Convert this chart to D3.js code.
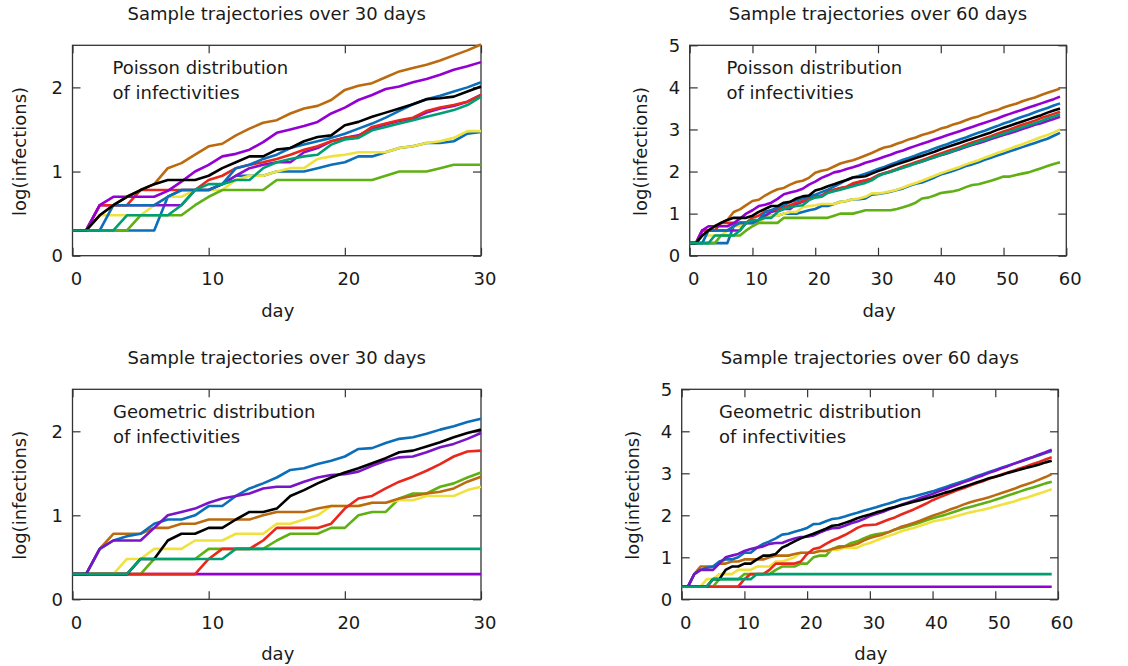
<!DOCTYPE html>
<html>
<head>
<meta charset="utf-8">
<script src="https://cdn.jsdelivr.net/npm/d3@7"></script>
<style>
body { margin: 0; background: #fff; }
#visual { width: 1128px; height: 666px; }
</style>
</head>
<body>
<div id="visual"></div>
<script>
// tick labels
var xTicks30 = [0, 10, 20, 30];
var xTicks60 = [0, 10, 20, 30, 40, 50, 60];
var yTicks25 = [0, 1, 2];
var yTicks5 = [0, 1, 2, 3, 4, 5];

// log(infections) per day, index = day (0..59); 30-day panels show days 0..30
var poissonBrown = [0.30,0.30,0.48,0.60,0.70,0.78,0.85,1.04,1.10,1.20,1.30,1.33,1.43,1.51,1.58,1.61,1.69,1.75,1.78,1.85,1.97,2.02,2.05,2.12,2.19,2.23,2.27,2.32,2.38,2.44,2.51,
    2.57,2.60,2.66,2.71,2.77,2.81,2.87,2.91,2.96,3.02,3.06,3.12,3.16,3.22,3.27,3.31,3.37,3.42,3.46,3.52,3.57,3.61,3.67,3.72,3.76,3.82,3.87,3.92,3.97];
var poissonPurple = [0.30,0.30,0.60,0.70,0.70,0.70,0.70,0.77,0.88,1.00,1.08,1.18,1.21,1.26,1.35,1.46,1.50,1.54,1.59,1.69,1.76,1.85,1.91,1.98,2.01,2.06,2.10,2.15,2.21,2.25,2.30,
    2.35,2.40,2.46,2.50,2.56,2.61,2.66,2.71,2.76,2.81,2.86,2.91,2.96,3.01,3.06,3.11,3.16,3.21,3.26,3.32,3.37,3.42,3.47,3.52,3.57,3.62,3.67,3.72,3.78];
var poissonBlue = [0.30,0.30,0.30,0.60,0.60,0.60,0.60,0.70,0.78,0.78,0.78,0.85,1.04,1.08,1.15,1.20,1.28,1.32,1.36,1.40,1.45,1.51,1.57,1.64,1.72,1.80,1.86,1.90,1.95,2.00,2.06,
    2.11,2.17,2.22,2.28,2.33,2.38,2.44,2.49,2.55,2.60,2.65,2.71,2.76,2.81,2.87,2.92,2.97,3.03,3.08,3.14,3.19,3.25,3.30,3.35,3.41,3.46,3.51,3.57,3.62];
var poissonBlack = [0.30,0.30,0.48,0.60,0.70,0.78,0.85,0.90,0.90,0.90,0.95,1.04,1.11,1.18,1.18,1.26,1.28,1.36,1.41,1.43,1.55,1.59,1.65,1.70,1.75,1.80,1.86,1.87,1.89,1.95,2.01,
    2.06,2.12,2.17,2.22,2.27,2.32,2.37,2.42,2.47,2.53,2.58,2.63,2.68,2.73,2.78,2.83,2.88,2.93,2.99,3.04,3.09,3.14,3.19,3.24,3.29,3.34,3.40,3.45,3.50];
var poissonRed = [0.30,0.30,0.60,0.60,0.60,0.78,0.78,0.78,0.78,0.78,0.90,0.95,1.04,1.08,1.11,1.15,1.20,1.26,1.30,1.36,1.40,1.42,1.53,1.57,1.61,1.64,1.72,1.76,1.79,1.83,1.91,
    1.96,2.01,2.06,2.12,2.17,2.22,2.27,2.32,2.38,2.43,2.48,2.53,2.58,2.64,2.69,2.74,2.79,2.84,2.90,2.95,3.00,3.06,3.11,3.16,3.21,3.27,3.32,3.37,3.42];
var poissonViolet = [0.30,0.30,0.60,0.60,0.60,0.60,0.60,0.60,0.60,0.78,0.78,0.85,0.95,1.04,1.08,1.11,1.11,1.23,1.28,1.36,1.40,1.43,1.51,1.56,1.60,1.63,1.70,1.75,1.78,1.83,1.91,
    1.96,2.00,2.05,2.10,2.15,2.20,2.24,2.29,2.34,2.39,2.43,2.48,2.53,2.58,2.63,2.67,2.72,2.77,2.82,2.87,2.91,2.96,3.01,3.06,3.11,3.15,3.20,3.25,3.30];
var poissonTeal = [0.30,0.30,0.30,0.30,0.48,0.48,0.48,0.48,0.60,0.78,0.85,0.85,0.90,0.90,1.04,1.11,1.15,1.18,1.20,1.32,1.38,1.40,1.49,1.53,1.57,1.61,1.65,1.69,1.73,1.79,1.89,
    1.95,1.99,2.04,2.09,2.14,2.19,2.24,2.29,2.34,2.39,2.44,2.49,2.55,2.60,2.65,2.70,2.75,2.80,2.85,2.90,2.95,3.00,3.05,3.10,3.15,3.20,3.26,3.31,3.36];
var poissonYellow = [0.30,0.30,0.48,0.48,0.48,0.48,0.60,0.70,0.70,0.78,0.78,0.78,0.90,0.95,0.95,1.00,1.04,1.04,1.15,1.18,1.20,1.23,1.23,1.23,1.28,1.30,1.34,1.36,1.40,1.48,1.48,
    1.50,1.53,1.57,1.62,1.68,1.73,1.78,1.84,1.90,1.96,2.01,2.06,2.11,2.17,2.22,2.27,2.33,2.38,2.44,2.49,2.54,2.60,2.65,2.71,2.76,2.82,2.87,2.93,3.00];
var poissonSteel = [0.30,0.30,0.30,0.30,0.30,0.30,0.30,0.70,0.78,0.78,0.78,0.85,0.95,0.95,0.95,1.00,1.00,1.00,1.04,1.08,1.11,1.18,1.18,1.23,1.28,1.30,1.34,1.34,1.36,1.45,1.47,
    1.49,1.52,1.56,1.60,1.66,1.71,1.74,1.80,1.86,1.93,1.97,2.02,2.07,2.13,2.17,2.22,2.28,2.33,2.38,2.43,2.48,2.53,2.58,2.63,2.68,2.73,2.78,2.85,2.92];
var poissonGreen = [0.30,0.30,0.30,0.30,0.30,0.48,0.48,0.48,0.48,0.60,0.70,0.78,0.78,0.78,0.78,0.90,0.90,0.90,0.90,0.90,0.90,0.90,0.90,0.95,1.00,1.00,1.00,1.04,1.08,1.08,1.08,
    1.08,1.08,1.11,1.15,1.20,1.26,1.36,1.38,1.43,1.49,1.51,1.53,1.57,1.63,1.68,1.70,1.74,1.78,1.83,1.88,1.88,1.92,1.95,1.98,2.03,2.08,2.13,2.18,2.22];

var geoPurple = [0.30,0.30,0.30,0.30,0.30,0.30,0.30,0.30,0.30,0.30,0.30,0.30,0.30,0.30,0.30,0.30,0.30,0.30,0.30,0.30,0.30,0.30,0.30,0.30,0.30,0.30,0.30,0.30,0.30,0.30,0.30,
    0.30,0.30,0.30,0.30,0.30,0.30,0.30,0.30,0.30,0.30,0.30,0.30,0.30,0.30,0.30,0.30,0.30,0.30,0.30,0.30,0.30,0.30,0.30,0.30,0.30,0.30,0.30,0.30,0.30];
var geoTeal = [0.30,0.30,0.30,0.30,0.30,0.48,0.48,0.48,0.48,0.48,0.48,0.48,0.60,0.60,0.60,0.60,0.60,0.60,0.60,0.60,0.60,0.60,0.60,0.60,0.60,0.60,0.60,0.60,0.60,0.60,0.60,
    0.60,0.60,0.60,0.60,0.60,0.60,0.60,0.60,0.60,0.60,0.60,0.60,0.60,0.60,0.60,0.60,0.60,0.60,0.60,0.60,0.60,0.60,0.60,0.60,0.60,0.60,0.60,0.60,0.60];
var geoViolet = [0.30,0.30,0.60,0.70,0.70,0.70,0.85,1.00,1.04,1.08,1.15,1.20,1.23,1.26,1.32,1.34,1.34,1.40,1.45,1.48,1.49,1.52,1.59,1.65,1.69,1.70,1.75,1.81,1.85,1.91,1.98,
    2.03,2.08,2.14,2.19,2.25,2.30,2.35,2.41,2.46,2.51,2.57,2.62,2.68,2.73,2.79,2.84,2.90,2.95,3.01,3.06,3.12,3.17,3.23,3.28,3.34,3.39,3.45,3.50,3.56];
var geoBlue = [0.30,0.30,0.60,0.70,0.75,0.78,0.90,0.95,0.95,1.00,1.11,1.11,1.23,1.32,1.38,1.45,1.54,1.56,1.61,1.65,1.70,1.79,1.80,1.86,1.91,1.93,1.97,2.02,2.06,2.11,2.15,
    2.19,2.24,2.28,2.33,2.38,2.41,2.45,2.49,2.53,2.57,2.62,2.67,2.72,2.77,2.82,2.87,2.93,2.98,3.03,3.08,3.13,3.18,3.23,3.28,3.33,3.38,3.43,3.48,3.53];
var geoBrown = [0.30,0.30,0.60,0.78,0.78,0.78,0.85,0.85,0.90,0.90,0.95,0.95,0.95,0.95,1.00,1.04,1.04,1.04,1.08,1.11,1.11,1.11,1.15,1.15,1.20,1.23,1.26,1.28,1.32,1.40,1.46,
    1.50,1.54,1.60,1.66,1.73,1.77,1.82,1.87,1.93,1.99,2.04,2.09,2.15,2.20,2.26,2.31,2.35,2.39,2.43,2.48,2.53,2.58,2.63,2.69,2.74,2.79,2.85,2.91,2.98];
var geoBlack = [0.30,0.30,0.30,0.30,0.30,0.48,0.48,0.70,0.78,0.78,0.85,0.85,0.95,1.04,1.04,1.08,1.23,1.30,1.38,1.45,1.51,1.56,1.62,1.68,1.75,1.77,1.82,1.87,1.93,1.98,2.02,
    2.07,2.11,2.16,2.20,2.24,2.28,2.32,2.36,2.40,2.44,2.49,2.54,2.58,2.63,2.68,2.73,2.78,2.83,2.88,2.92,2.96,3.01,3.05,3.09,3.13,3.17,3.21,3.26,3.30];
var geoYellow = [0.30,0.30,0.30,0.30,0.48,0.48,0.60,0.60,0.60,0.70,0.70,0.70,0.78,0.78,0.78,0.90,0.90,0.95,1.00,1.11,1.11,1.11,1.15,1.15,1.18,1.18,1.23,1.23,1.23,1.30,1.34,
    1.40,1.46,1.51,1.56,1.62,1.66,1.70,1.75,1.80,1.85,1.88,1.91,1.95,1.99,2.03,2.07,2.10,2.13,2.17,2.21,2.25,2.29,2.33,2.38,2.42,2.47,2.52,2.57,2.62];
var geoGreen = [0.30,0.30,0.30,0.30,0.30,0.30,0.48,0.48,0.48,0.48,0.60,0.60,0.60,0.60,0.60,0.70,0.78,0.78,0.78,0.85,0.85,1.00,1.04,1.04,1.20,1.26,1.26,1.34,1.38,1.45,1.51,
    1.55,1.57,1.60,1.66,1.70,1.74,1.78,1.83,1.88,1.93,1.97,2.01,2.06,2.11,2.16,2.20,2.24,2.28,2.32,2.37,2.42,2.47,2.52,2.57,2.62,2.66,2.71,2.76,2.80];
var geoRed = [0.30,0.30,0.30,0.30,0.30,0.30,0.30,0.30,0.30,0.30,0.48,0.60,0.60,0.60,0.70,0.85,0.85,0.85,0.85,0.90,1.08,1.20,1.23,1.32,1.40,1.46,1.53,1.61,1.70,1.76,1.77,
    1.78,1.84,1.90,1.95,2.02,2.08,2.14,2.21,2.28,2.36,2.42,2.48,2.54,2.60,2.65,2.71,2.76,2.81,2.87,2.92,2.97,3.02,3.07,3.12,3.17,3.22,3.27,3.33,3.38];

var colours = {
    purple: '#9400d3',
    violet: '#7a14c8',
    teal: '#009e73',
    blue: '#0a6fb8',
    brown: '#bb6a10',
    yellow: '#f0e23e',
    red: '#e8281c',
    green: '#5fb012',
    black: '#000000'
};

// drawing order: last one ends up on top
var poissonSeries = [
    { values: poissonSteel, colour: colours.blue },
    { values: poissonYellow, colour: colours.yellow },
    { values: poissonGreen, colour: colours.green },
    { values: poissonViolet, colour: '#8a0fd0' },
    { values: poissonRed, colour: colours.red },
    { values: poissonBlue, colour: colours.blue },
    { values: poissonPurple, colour: colours.purple },
    { values: poissonBrown, colour: colours.brown },
    { values: poissonBlack, colour: colours.black },
    { values: poissonTeal, colour: colours.teal }
];

var geoSeries = [
    { values: geoPurple, colour: colours.purple },
    { values: geoGreen, colour: colours.green },
    { values: geoYellow, colour: colours.yellow },
    { values: geoBrown, colour: colours.brown },
    { values: geoRed, colour: colours.red },
    { values: geoBlue, colour: colours.blue },
    { values: geoViolet, colour: colours.violet },
    { values: geoBlack, colour: colours.black },
    { values: geoTeal, colour: colours.teal }
];

var FONT = '"DejaVu Sans", Verdana, sans-serif';
var INK = '#1a1a1a';

var svg = d3.select('#visual')
    .append('svg')
    .attr('width', 1128)
    .attr('height', 666)
    .style('background', '#fff');

function styleAxis(g) {
    g.select('.domain').remove();
    g.selectAll('.tick line').attr('stroke', '#333').attr('stroke-width', 1.2);
    g.selectAll('.tick text')
        .attr('fill', INK)
        .style('font-family', FONT)
        .style('font-size', '18px');
}

function drawPanel(p) {
    var x = d3.scaleLinear().domain([0, p.xMax]).range([p.left, p.left + p.width]);
    var y = d3.scaleLinear().domain([0, p.yMax]).range([p.top + p.height, p.top]);
    var bottom = p.top + p.height;
    var right = p.left + p.width;
    var g = svg.append('g');

    g.append('g')
        .attr('transform', 'translate(0,' + bottom + ')')
        .call(d3.axisBottom(x).tickValues(p.xTicks).tickFormat(d3.format('d'))
            .tickSize(-8).tickSizeOuter(0).tickPadding(16.5))
        .call(styleAxis)
        .selectAll('.tick text').attr('dx', 3.5);

    g.append('g')
        .attr('transform', 'translate(0,' + p.top + ')')
        .call(d3.axisTop(x).tickValues(p.xTicks).tickSize(-8).tickSizeOuter(0).tickFormat(''))
        .call(styleAxis);

    g.append('g')
        .attr('transform', 'translate(' + p.left + ',0)')
        .call(d3.axisLeft(y).tickValues(p.yTicks).tickFormat(d3.format('d'))
            .tickSize(-8).tickSizeOuter(0).tickPadding(9.5))
        .call(styleAxis);

    g.append('g')
        .attr('transform', 'translate(' + right + ',0)')
        .call(d3.axisRight(y).tickValues(p.yTicks).tickSize(-8).tickSizeOuter(0).tickFormat(''))
        .call(styleAxis);

    g.append('rect')
        .attr('x', p.left)
        .attr('y', p.top)
        .attr('width', p.width)
        .attr('height', p.height)
        .attr('fill', 'none')
        .attr('stroke', '#333')
        .attr('stroke-width', 1.3);

    var line = d3.line()
        .x(function (d, i) { return x(i); })
        .y(function (d) { return y(d); });

    g.selectAll('path.traj')
        .data(p.series)
        .enter().append('path')
        .attr('class', 'traj')
        .attr('d', function (s) { return line(s.values.slice(0, p.days)); })
        .attr('fill', 'none')
        .attr('stroke', function (s) { return s.colour; })
        .attr('stroke-width', 2.6)
        .attr('stroke-linejoin', 'round');

    // title, annotation, axis labels
    g.append('text')
        .attr('x', p.left + p.width / 2)
        .attr('y', p.top - 25)
        .attr('text-anchor', 'middle')
        .text(p.title);

    p.note.forEach(function (t, i) {
        g.append('text')
            .attr('x', p.noteX)
            .attr('y', p.top + 28.7 + i * 24.5)
            .text(t);
    });

    g.append('text')
        .attr('x', p.left + p.width / 2 + 1)
        .attr('y', bottom + 61)
        .attr('text-anchor', 'middle')
        .text('day');

    g.append('text')
        .attr('transform', 'translate(' + p.yLabelX + ',' + (p.top + p.height / 2 + 1) + ') rotate(-90)')
        .attr('text-anchor', 'middle')
        .text('log(infections)');

    g.selectAll('text')
        .attr('fill', INK)
        .style('font-family', FONT)
        .style('font-size', '18px');
}

drawPanel({
    left: 72.5, top: 45.3, width: 408.5, height: 210.4,
    xMax: 30, yMax: 2.5, days: 31, xTicks: xTicks30, yTicks: yTicks25,
    title: 'Sample trajectories over 30 days',
    note: ['Poisson distribution', 'of infectivities'], noteX: 112.5,
    yLabelX: 26, series: poissonSeries
});

drawPanel({
    left: 689.7, top: 45.3, width: 376.6, height: 210.4,
    xMax: 60, yMax: 5, days: 60, xTicks: xTicks60, yTicks: yTicks5,
    title: 'Sample trajectories over 60 days',
    note: ['Poisson distribution', 'of infectivities'], noteX: 726.5,
    yLabelX: 646.7, series: poissonSeries
});

drawPanel({
    left: 72.5, top: 389.3, width: 408.5, height: 210,
    xMax: 30, yMax: 2.5, days: 31, xTicks: xTicks30, yTicks: yTicks25,
    title: 'Sample trajectories over 30 days',
    note: ['Geometric distribution', 'of infectivities'], noteX: 113,
    yLabelX: 26, series: geoSeries
});

drawPanel({
    left: 681.7, top: 389.3, width: 376.3, height: 210,
    xMax: 60, yMax: 5, days: 60, xTicks: xTicks60, yTicks: yTicks5,
    title: 'Sample trajectories over 60 days',
    note: ['Geometric distribution', 'of infectivities'], noteX: 719,
    yLabelX: 638.7, series: geoSeries
});
</script>
</body>
</html>
